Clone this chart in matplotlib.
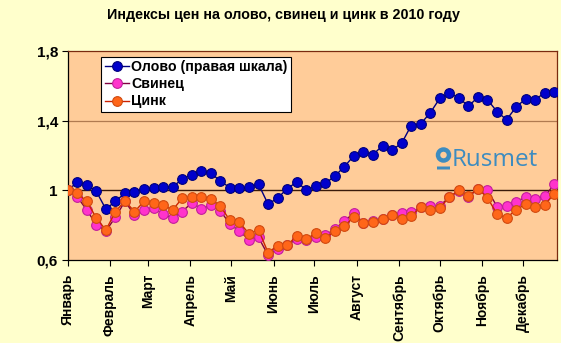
import numpy as np
import pandas as pd
import matplotlib
matplotlib.use("Agg")
import matplotlib.pyplot as plt
from matplotlib.patches import Circle, FancyBboxPatch

plt.rcParams["font.family"] = ["Liberation Sans", "DejaVu Sans"]

# weekly price indices, 1 Jan 2010 = 1
dates = pd.date_range("2010-01-01", periods=52, freq="7D")

tin = [1.000, 1.046, 1.030, 0.994, 0.892, 0.937, 0.984, 0.993, 1.006, 1.016,
       1.019, 1.019, 1.065, 1.088, 1.109, 1.098, 1.054, 1.015, 1.013, 1.017,
       1.035, 0.921, 0.955, 1.009, 1.048, 1.002, 1.023, 1.040, 1.082, 1.136,
       1.199, 1.219, 1.205, 1.257, 1.232, 1.270, 1.372, 1.382, 1.445, 1.528,
       1.558, 1.531, 1.483, 1.535, 1.520, 1.452, 1.405, 1.479, 1.525, 1.521,
       1.560, 1.564]

lead = [1.000, 0.963, 0.887, 0.803, 0.767, 0.845, 0.937, 0.858, 0.887, 0.896,
        0.865, 0.839, 0.878, 0.928, 0.894, 0.915, 0.883, 0.806, 0.766, 0.717,
        0.730, 0.628, 0.662, 0.685, 0.720, 0.712, 0.734, 0.743, 0.777, 0.825,
        0.869, 0.812, 0.823, 0.838, 0.858, 0.868, 0.873, 0.902, 0.910, 0.912,
        0.960, 0.998, 0.964, 1.007, 1.001, 0.907, 0.908, 0.933, 0.963, 0.952,
        0.965, 1.036]

zinc = [1.000, 0.983, 0.937, 0.841, 0.772, 0.877, 0.940, 0.877, 0.937, 0.927,
        0.915, 0.887, 0.955, 0.963, 0.963, 0.952, 0.910, 0.827, 0.816, 0.751,
        0.774, 0.642, 0.683, 0.685, 0.738, 0.720, 0.754, 0.725, 0.767, 0.795,
        0.847, 0.812, 0.820, 0.833, 0.858, 0.837, 0.854, 0.902, 0.885, 0.900,
        0.960, 1.001, 0.966, 1.010, 0.957, 0.864, 0.842, 0.888, 0.921, 0.902,
        0.918, 0.979]

months = ["Январь", "Февраль", "Март", "Апрель", "Май", "Июнь", "Июль",
          "Август", "Сентябрь", "Октябрь", "Ноябрь", "Декабрь"]
y_ticks = [0.6, 1.0, 1.4, 1.8]
y_labels = ["0,6", "1", "1,4", "1,8"]

W, H = 561, 343
fig = plt.figure(figsize=(W / 100, H / 100), dpi=100)
fig.patch.set_facecolor("#FFFFCC")

left, right, top, bottom = 67.7, 557, 51, 260
ax = fig.add_axes([left / W, 1 - bottom / H, (right - left) / W, (bottom - top) / H])
ax.set_facecolor("#FFCC99")

# horizontal gridlines
ax.axhline(1.4, color="#B07A50", lw=0.9, zorder=1)
ax.axhline(1.0, color="#3A1A0A", lw=1.0, zorder=1)

ax.plot(dates, tin, color="#000080", lw=1.0, marker="o", ms=7,
        mfc="#0000CC", mec="#00007A", mew=0.8, label="Олово (правая шкала)", zorder=3)
ax.plot(dates, lead, color="#800040", lw=1.0, marker="o", ms=7,
        mfc="#FF33CC", mec="#C0209A", mew=0.8, label="Свинец", zorder=3)
ax.plot(dates, zinc, color="#CC2200", lw=1.0, marker="o", ms=7,
        mfc="#FF6619", mec="#D04A10", mew=0.8, label="Цинк", zorder=4)

ax.set_ylim(0.6, 1.8)
ax.set_yticks(y_ticks)
ax.set_yticklabels(y_labels, fontsize=11, fontweight="bold")
ax.set_xlim(dates[0], dates[-1] + pd.Timedelta(days=2))

month_starts = pd.date_range("2010-01-01", "2010-12-01", freq="MS")
ax.set_xticks(month_starts)
ax.set_xticklabels(months, rotation=90, fontsize=10, fontweight="bold",
                   ha="center", va="top")
ax.tick_params(axis="both", direction="out", length=4, width=0.8, colors="black")
ax.tick_params(axis="x", pad=6)
ax.tick_params(axis="y", pad=3)

for side in ["left", "bottom"]:
    ax.spines[side].set_color("black")
    ax.spines[side].set_linewidth(0.9)
for side in ["top", "right"]:
    ax.spines[side].set_color("#7A2A10")
    ax.spines[side].set_linewidth(0.9)

fig.text(283 / W, 1 - 15 / H, "Индексы цен на олово, свинец и цинк в 2010 году",
         ha="center", va="center", fontsize=10.3, fontweight="bold")

leg = fig.legend(loc="upper left", bbox_to_anchor=(101 / W, 1 - 56.7 / H),
                 frameon=True, fancybox=False, edgecolor="black",
                 facecolor="white", framealpha=1,
                 prop={"size": 10.2, "weight": "bold"},
                 handlelength=1.7, handletextpad=0.2, borderpad=0.25,
                 labelspacing=0.22, borderaxespad=0)
leg.get_frame().set_linewidth(0.8)

# Rusmet logo
logo_color = "#3D8CC0"
fig.text(452 / W, 1 - 160 / H, "Rusmet", fontsize=17.5, color=logo_color,
         family=["Open Sans", "DejaVu Sans"], ha="left", va="center")
ring = Circle((443.5 / W * fig.get_figwidth(), (1 - 155 / H) * fig.get_figheight()),
              5.5 / 100, transform=fig.dpi_scale_trans, fill=False,
              ec=logo_color, lw=3.2)
fig.add_artist(ring)
bar = FancyBboxPatch((437 / W, 1 - 169.5 / H), 13 / W, 3 / H,
                     boxstyle="round,pad=0", transform=fig.transFigure,
                     fc=logo_color, ec="none")
fig.add_artist(bar)

fig.savefig("out.png", dpi=100, facecolor=fig.get_facecolor())
